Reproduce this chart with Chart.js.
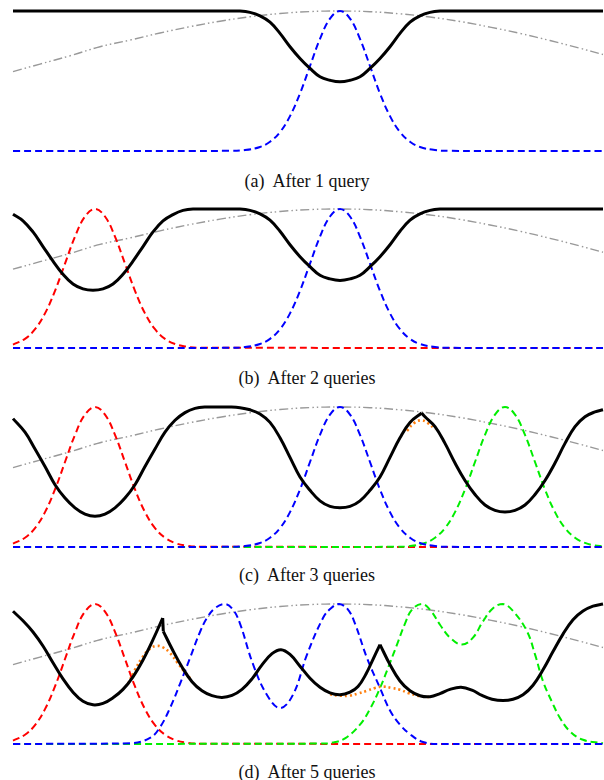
<!DOCTYPE html>
<html><head><meta charset="utf-8">
<script src="https://cdn.jsdelivr.net/npm/chart.js@4.4.1/dist/chart.umd.min.js"></script>
<style>
html,body{margin:0;padding:0;background:#fff;width:604px;height:780px;overflow:hidden;position:relative}
canvas{position:absolute;left:0}
.cap{position:absolute;left:0;width:614px;text-align:center;font-family:"Liberation Serif","Times New Roman",serif;font-size:18px;line-height:20px;color:#111;white-space:pre}
</style></head><body>
<canvas id="cA" width="604" height="160" style="top:1px"></canvas>
<div class="cap" id="tA" style="top:171px"></div>
<canvas id="cB" width="604" height="159" style="top:199px"></canvas>
<div class="cap" id="tB" style="top:368px"></div>
<canvas id="cC" width="604" height="160" style="top:397px"></canvas>
<div class="cap" id="tC" style="top:565px"></div>
<canvas id="cD" width="604" height="160" style="top:594px"></canvas>
<div class="cap" id="tD" style="top:762px"></div>
<script>
// ---- captions ----
const captions = ["(a)  After 1 query", "(b)  After 2 queries", "(c)  After 3 queries", "(d)  After 5 queries"];

// ---- data: [x, value] pairs (x in horizontal units 13..603, value 0..1) ----
const grey = [[13,0.567],[40,0.621],[70,0.680],[100,0.745],[130,0.792],[160,0.843],[190,0.888],[220,0.927],[250,0.959],[280,0.982],[310,0.996],[340,1.0],[370,0.995],[400,0.980],[430,0.957],[460,0.925],[490,0.885],[520,0.840],[550,0.789],[580,0.734],[603,0.689]];

const red = [[13,0.024],[25,0.066],[35,0.135],[45,0.249],[55,0.411],[65,0.607],[75,0.801],[85,0.946],[95,1],[105,0.946],[115,0.801],[125,0.607],[135,0.411],[145,0.249],[155,0.135],[165,0.066],[175,0.029],[185,0.011],[200,0.002],[603,0]];

const blue = [[13,0],[230,0.001],[245,0.0066],[260,0.029],[270,0.066],[280,0.135],[290,0.249],[300,0.411],[310,0.607],[320,0.801],[330,0.946],[340,1],[350,0.946],[360,0.801],[370,0.607],[380,0.411],[390,0.249],[400,0.135],[410,0.066],[420,0.029],[435,0.0066],[450,0.001],[603,0]];

const greenC = [[13,0],[395,0.001],[410,0.0066],[425,0.029],[435,0.066],[445,0.135],[455,0.249],[465,0.411],[475,0.607],[485,0.801],[495,0.946],[505,1],[515,0.946],[525,0.801],[535,0.607],[545,0.411],[555,0.249],[565,0.135],[575,0.066],[585,0.029],[595,0.011],[603,0.005]];

const blueD = [[13,0],[130,0.005],[150,0.043],[160,0.12],[170,0.257],[180,0.43],[190,0.614],[200,0.80],[207,0.9],[215,0.97],[225,1.0],[233,0.96],[240,0.86],[253,0.57],[267,0.35],[280,0.257],[293,0.352],[307,0.638],[323,0.9],[331,0.97],[339,1.0],[348,0.96],[355,0.86],[367,0.614],[380,0.40],[390,0.24],[400,0.138],[410,0.07],[423,0.014],[440,0],[603,0]];

const greenD = [[13,0],[320,0.003],[333,0.01],[345,0.04],[360,0.138],[370,0.25],[380,0.40],[390,0.58],[397,0.71],[405,0.86],[412,0.96],[422,1.0],[431,0.95],[440,0.852],[450,0.76],[462,0.71],[473,0.76],[483,0.876],[493,0.97],[503,1.0],[513,0.95],[527,0.805],[535,0.64],[543,0.448],[552,0.30],[560,0.186],[570,0.09],[583,0.03],[603,0.005]];

const blackA = [[13,1],[230,1],[240,1.0],[250,0.99],[260,0.965],[270,0.92],[280,0.84],[290,0.745],[300,0.661],[310,0.59],[320,0.53],[330,0.505],[340,0.494],[350,0.505],[360,0.53],[370,0.59],[380,0.661],[390,0.745],[400,0.84],[410,0.92],[420,0.965],[430,0.99],[440,1.0],[450,1],[603,1]];

const blackB = [[13,0.962],[23,0.915],[33,0.835],[43,0.73],[53,0.625],[63,0.53],[73,0.46],[83,0.425],[93,0.415],[103,0.425],[113,0.46],[123,0.53],[133,0.625],[143,0.73],[153,0.835],[163,0.915],[173,0.96],[183,0.99],[193,1.0],[230,1],[240,1.0],[250,0.99],[260,0.965],[270,0.92],[280,0.84],[290,0.743],[300,0.657],[310,0.585],[320,0.523],[330,0.497],[340,0.486],[350,0.497],[360,0.523],[370,0.585],[380,0.657],[390,0.743],[400,0.84],[410,0.92],[420,0.965],[430,0.99],[440,1.0],[450,1],[603,1]];

const blackC = [[13,0.917],[25,0.82],[35,0.70],[45,0.575],[55,0.445],[65,0.35],[75,0.28],[85,0.235],[95,0.219],[105,0.235],[115,0.28],[125,0.35],[135,0.445],[145,0.575],[155,0.70],[165,0.82],[175,0.905],[185,0.96],[195,0.99],[205,1.0],[220,1.0],[230,1.0],[240,0.995],[250,0.98],[260,0.95],[270,0.89],[280,0.78],[290,0.64],[300,0.50],[310,0.405],[320,0.33],[330,0.29],[340,0.28],[350,0.29],[360,0.33],[370,0.405],[380,0.50],[390,0.64],[400,0.78],[410,0.89],[421.7,0.957],[425,0.93],[435,0.86],[445,0.74],[455,0.60],[465,0.475],[475,0.375],[485,0.30],[495,0.262],[505,0.25],[515,0.262],[525,0.30],[535,0.375],[545,0.475],[555,0.60],[565,0.74],[575,0.86],[585,0.93],[595,0.965],[603,0.98]];
const kinksC = [421.7];

const orangeC = [[407,0.83],[414,0.885],[421,0.905],[428,0.885],[435,0.84]];

const blackD = [[13,0.948],[23,0.88],[33,0.80],[43,0.70],[53,0.58],[63,0.465],[73,0.37],[83,0.305],[93,0.28],[103,0.29],[113,0.33],[123,0.39],[133,0.48],[143,0.60],[153,0.745],[162.7,0.9],[163.3,0.805],[172,0.68],[182,0.55],[192,0.445],[202,0.38],[212,0.345],[222,0.333],[232,0.347],[242,0.39],[252,0.465],[262,0.565],[272,0.645],[281,0.674],[290,0.64],[300,0.556],[310,0.47],[320,0.405],[330,0.365],[340,0.352],[350,0.37],[358,0.41],[366,0.50],[373,0.605],[380,0.71],[390,0.567],[400,0.45],[410,0.38],[420,0.345],[430,0.338],[440,0.36],[450,0.39],[461,0.405],[472,0.385],[482,0.347],[492,0.32],[503,0.31],[513,0.32],[523,0.352],[533,0.42],[543,0.53],[553,0.66],[563,0.785],[573,0.888],[583,0.95],[593,0.985],[603,1.0]];
const kinksD = [162.7, 163.3, 380];

const orangeD1 = [[128,0.43],[135,0.53],[142,0.615],[149,0.675],[156,0.70],[163,0.69],[170,0.65],[177,0.585],[184,0.52],[190,0.47]];
const orangeD2 = [[330,0.355],[340,0.345],[350,0.346],[358,0.36],[367,0.38],[375,0.40],[383,0.41],[392,0.40],[400,0.388],[408,0.365],[417,0.346],[425,0.337],[432,0.336]];

// ---- styles ----
const S = {
  black:{color:'#000000', width:3, dash:[]},
  grey:{color:'#999999', width:1.4, dash:[9,3,1.5,3,1.5,3]},
  red:{color:'#ff0000', width:2, dash:[7,4]},
  blue:{color:'#0000ff', width:2, dash:[7,4]},
  green:{color:'#00ee00', width:2, dash:[7,4]},
  orange:{color:'#ff7f0e', width:2.6, dash:[2,3]}
};

function pieces(pts, breaks){
  const out=[]; let cur=[];
  for(const p of pts){ cur.push(p); if(breaks.includes(p[0])){ out.push(cur); cur=[p]; } }
  if(cur.length>1) out.push(cur);
  return out;
}
function ds(pts, st){
  return {data:pts.map(p=>({x:p[0],y:p[1]})), borderColor:st.color, borderWidth:st.width, borderDash:st.dash,
    pointRadius:0, fill:false, tension:0.4, clip:false, borderCapStyle:'butt', borderJoinStyle:'round'};
}
function make(id, sets){
  new Chart(document.getElementById(id), {
    type:'line',
    data:{datasets:sets},
    options:{responsive:false, animation:false, events:[],
      layout:{padding:{left:13,right:1,top:10,bottom:10}},
      plugins:{legend:{display:false}, tooltip:{enabled:false}},
      scales:{x:{type:'linear',min:13,max:603,display:false}, y:{min:0,max:1,display:false}}}
  });
}
['tA','tB','tC','tD'].forEach((id,i)=>{ document.getElementById(id).textContent = captions[i]; });

// dataset 0 is drawn on top
make('cA', [ds(blackA,S.black), ds(blue,S.blue), ds(grey,S.grey)]);
make('cB', [ds(blackB,S.black), ds(blue,S.blue), ds(red,S.red), ds(grey,S.grey)]);
make('cC', [...pieces(blackC,kinksC).map(p=>ds(p,S.black)), ds(orangeC,S.orange), ds(blue,S.blue), ds(greenC,S.green), ds(red,S.red), ds(grey,S.grey)]);
make('cD', [...pieces(blackD,kinksD).map(p=>ds(p,S.black)), ds(orangeD1,S.orange), ds(orangeD2,S.orange), ds(blueD,S.blue), ds(greenD,S.green), ds(red,S.red), ds(grey,S.grey)]);
</script>
</body></html>
